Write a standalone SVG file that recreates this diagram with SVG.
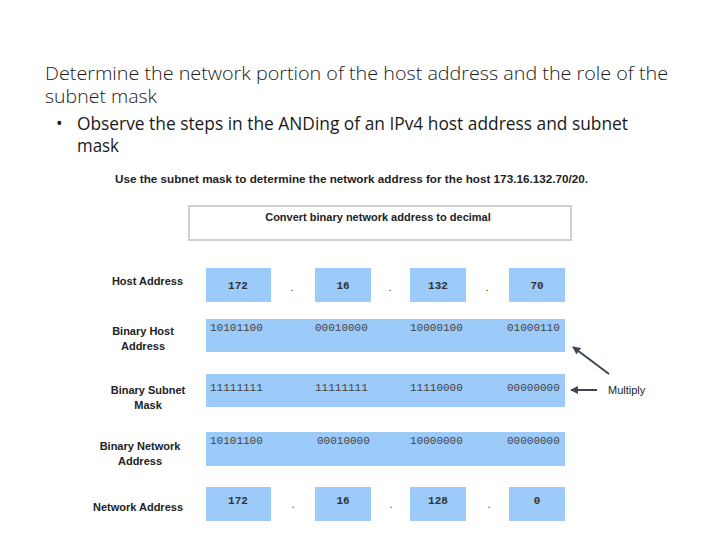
<svg xmlns="http://www.w3.org/2000/svg" width="720" height="540" viewBox="0 0 720 540">
<defs>
<style>
.title{font-family:"Open Sans","Liberation Sans",sans-serif;font-size:18px;fill:#1a1a1a;font-weight:300}
.bul{font-family:"Open Sans","Liberation Sans",sans-serif;font-size:17.5px;fill:#1a1a1a}
.lbl{font-family:"Liberation Sans",Arial,sans-serif;font-size:11px;font-weight:bold;fill:#222}
.cell{fill:#9ccaf9}
.dec{font-family:"Liberation Mono","Courier New",monospace;font-size:11px;font-weight:bold;fill:#333;text-anchor:middle}
.bin{font-family:"Liberation Mono","Courier New",monospace;font-size:11px;fill:#444}
.dot{font-family:"Liberation Sans",Arial,sans-serif;font-size:11px;fill:#333;text-anchor:middle}
.conn{stroke:#3d4652;stroke-width:2;fill:none}
</style>
<marker id="ah" viewBox="0 0 10 10" refX="9" refY="5" markerWidth="4" markerHeight="4" orient="auto">
<path d="M0,0 L10,5 L0,10 z" fill="#3d4652"/>
</marker>
</defs>
<rect width="720" height="540" fill="#fff"/>
<g id="heading">
<text class="title" x="45" y="80" textLength="623" lengthAdjust="spacingAndGlyphs">Determine the network portion of the host address and the role of the</text>
<text class="title" x="45" y="103" textLength="112" lengthAdjust="spacingAndGlyphs">subnet mask</text>
<text class="bul" x="56" y="130">•</text>
<text class="bul" x="77" y="130" textLength="551" lengthAdjust="spacingAndGlyphs">Observe the steps in the ANDing of an IPv4 host address and subnet</text>
<text class="bul" x="77" y="152" textLength="42" lengthAdjust="spacingAndGlyphs">mask</text>
</g>
<g id="instruction">
<text class="lbl" x="115" y="183" textLength="473" lengthAdjust="spacingAndGlyphs">Use the subnet mask to determine the network address for the host 173.16.132.70/20.</text>
</g>
<g id="step-box">
<rect x="189" y="206" width="382" height="34" fill="#fff" stroke="#cfcfcf" stroke-width="2"/>
<text class="lbl" x="378" y="221" text-anchor="middle">Convert binary network address to decimal</text>
</g>
<g id="host-address">
<text class="lbl" x="183" y="285" text-anchor="end">Host Address</text>
<rect class="cell" x="206" y="268" width="65" height="34"/>
<rect class="cell" x="315" y="268" width="56" height="34"/>
<rect class="cell" x="410" y="268" width="56" height="34"/>
<rect class="cell" x="509" y="268" width="56" height="34"/>
<text class="dec" x="238" y="289">172</text>
<text class="dec" x="343" y="289">16</text>
<text class="dec" x="438" y="289">132</text>
<text class="dec" x="537" y="289">70</text>
<text class="dot" x="292" y="291">.</text>
<text class="dot" x="390" y="291">.</text>
<text class="dot" x="487" y="291">.</text>
</g>
<g id="binary-host">
<text class="lbl" x="143" y="335" text-anchor="middle">Binary Host</text>
<text class="lbl" x="143" y="350" text-anchor="middle">Address</text>
<rect class="cell" x="206" y="319" width="359" height="33"/>
<text class="bin" x="210" y="331">10101100</text>
<text class="bin" x="315" y="331">00010000</text>
<text class="bin" x="410" y="331">10000100</text>
<text class="bin" x="507" y="331">01000110</text>
</g>
<g id="binary-mask">
<text class="lbl" x="148" y="394" text-anchor="middle">Binary Subnet</text>
<text class="lbl" x="148" y="409" text-anchor="middle">Mask</text>
<rect class="cell" x="206" y="374" width="359" height="33"/>
<text class="bin" x="210" y="391">11111111</text>
<text class="bin" x="315" y="391">11111111</text>
<text class="bin" x="410" y="391">11110000</text>
<text class="bin" x="507" y="391">00000000</text>
</g>
<g id="binary-network">
<text class="lbl" x="140" y="450" text-anchor="middle">Binary Network</text>
<text class="lbl" x="140" y="465" text-anchor="middle">Address</text>
<rect class="cell" x="206" y="432" width="359" height="34"/>
<text class="bin" x="210" y="444">10101100</text>
<text class="bin" x="317" y="444">00010000</text>
<text class="bin" x="410" y="444">10000000</text>
<text class="bin" x="507" y="444">00000000</text>
</g>
<g id="network-address">
<text class="lbl" x="183" y="511" text-anchor="end">Network Address</text>
<rect class="cell" x="206" y="487" width="65" height="34"/>
<rect class="cell" x="315" y="487" width="56" height="34"/>
<rect class="cell" x="410" y="487" width="56" height="34"/>
<rect class="cell" x="509" y="487" width="56" height="34"/>
<text class="dec" x="238" y="504">172</text>
<text class="dec" x="343" y="504">16</text>
<text class="dec" x="438" y="504">128</text>
<text class="dec" x="537" y="504">0</text>
<text class="dot" x="293" y="508">.</text>
<text class="dot" x="391" y="508">.</text>
<text class="dot" x="489" y="508">.</text>
</g>
<g id="multiply">
<text x="608" y="394" font-family="Liberation Sans, Arial, sans-serif" font-size="11" fill="#222">Multiply</text>
</g>
<g id="connectors">
<line class="conn" x1="609" y1="374" x2="573" y2="347" marker-end="url(#ah)"/>
<line class="conn" x1="597" y1="390" x2="571" y2="390" marker-end="url(#ah)"/>
</g>
</svg>
